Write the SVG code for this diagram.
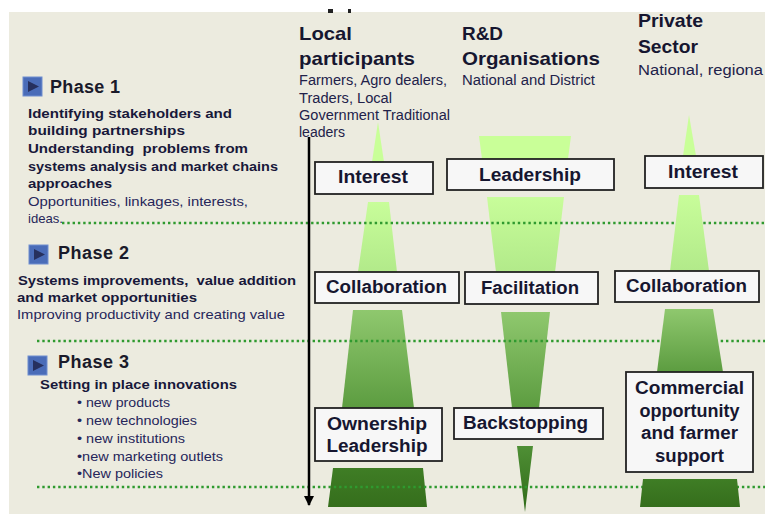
<svg xmlns="http://www.w3.org/2000/svg" width="765" height="514" viewBox="0 0 765 514">
<style>
.bg{fill:#ECEBDF}
.box{fill:#F7F7F7;stroke:#222;stroke-width:1.8}
.bl{font-family:"Liberation Sans",Arial,sans-serif;font-weight:bold;font-size:18px;fill:#161630;text-anchor:middle}
.hd{font-family:"Liberation Sans",Arial,sans-serif;font-weight:bold;font-size:19px;fill:#161630}
.sub{font-family:"Liberation Sans",Arial,sans-serif;font-size:14px;fill:#22224a}
.ph{font-family:"Liberation Sans",Arial,sans-serif;font-weight:bold;font-size:18px;fill:#1a1a2a}
.lb{font-family:"Liberation Sans",Arial,sans-serif;font-weight:bold;font-size:13px;fill:#18183a}
.ln{font-family:"Liberation Sans",Arial,sans-serif;font-size:13px;fill:#26265a}
.dot{stroke:#2F9A2F;stroke-width:2.6;stroke-dasharray:2.4 2.9;fill:none}
.icon{fill:#4A6CB8;stroke:#6E8ED0;stroke-width:1}
.tri{fill:#26305E}
.f1{fill:#C9FF98}
.f2{fill:url(#g2)}
.f3{fill:url(#g3)}
.f4{fill:url(#g4)}
.f4t{fill:url(#g4t)}
</style>
<defs>
<linearGradient id="g2" x1="0" y1="0" x2="0" y2="1"><stop offset="0" stop-color="#C8FD9A"/><stop offset="1" stop-color="#B2EA8A"/></linearGradient>
<linearGradient id="g3" x1="0" y1="0" x2="0" y2="1"><stop offset="0" stop-color="#8FC86E"/><stop offset="1" stop-color="#5C9C40"/></linearGradient>
<linearGradient id="g4" x1="0" y1="0" x2="0" y2="1"><stop offset="0" stop-color="#3F7D25"/><stop offset="1" stop-color="#356E1C"/></linearGradient>
<linearGradient id="g4t" x1="0" y1="0" x2="0" y2="1"><stop offset="0" stop-color="#4F8F35"/><stop offset="1" stop-color="#2F6A18"/></linearGradient>
<marker id="ah" viewBox="0 0 10 10" refX="9" refY="5" markerWidth="4" markerHeight="4" orient="auto"><path d="M0,0 L10,5 L0,10 z" fill="#000"/></marker>
</defs>

<rect class="bg" x="9" y="12" width="756" height="502"/>
<rect x="328" y="9" width="5" height="4" fill="#222"/>
<rect x="348" y="9" width="3" height="4" fill="#222"/>

<g id="funnels">
<polygon class="f1" points="378,122 384,162 372,162"/>
<polygon class="f2" points="368,202 389,202 397,272 358,272"/>
<polygon class="f3" points="353,310 402,310 414,408 342,408"/>
<polygon class="f4" points="333,468 423,468 427,507 328,507"/>
<polygon class="f1" points="479,136 571,136 568,159 482,159"/>
<polygon class="f2" points="487,197 564,197 555,272 496,272"/>
<polygon class="f3" points="501,312 550,312 539,408 512,408"/>
<polygon class="f4t" points="517,446 533,446 525,512"/>
</g>

<g id="phase-dividers">
<line class="dot" x1="62" y1="223" x2="765" y2="223"/>
<line class="dot" x1="37" y1="341" x2="765" y2="341"/>
<line class="dot" x1="37" y1="487" x2="765" y2="487"/>
</g>

<g id="funnels-private">
<polygon class="f1" points="689,115 696,156 683,156"/>
<polygon class="f2" points="679,195 699,195 709,271 670,271"/>
<polygon class="f3" points="665,309 713,309 723,372 657,372"/>
<polygon class="f4" points="643,479 737,479 740,507 640,507"/>
</g>

<g id="connectors">
<line x1="309" y1="137" x2="309" y2="505" stroke="#000" stroke-width="2.5" marker-end="url(#ah)"/>
</g>

<g id="phase1">
<rect class="icon" x="23" y="77" width="19" height="19"/>
<polygon class="tri" points="28,81 39,86.5 28,92"/>
<text class="ph" x="50" y="93" textLength="70">Phase 1</text>
<text class="lb" x="28" y="118" textLength="204" lengthAdjust="spacingAndGlyphs">Identifying stakeholders and</text>
<text class="lb" x="28" y="135" textLength="157" lengthAdjust="spacingAndGlyphs">building partnerships</text>
<text class="lb" x="28" y="153" textLength="220" lengthAdjust="spacingAndGlyphs" xml:space="preserve">Understanding  problems from</text>
<text class="lb" x="28" y="171" textLength="250" lengthAdjust="spacingAndGlyphs">systems analysis and market chains</text>
<text class="lb" x="28" y="188" textLength="84" lengthAdjust="spacingAndGlyphs">approaches</text>
<text class="ln" x="28" y="206" textLength="220" lengthAdjust="spacingAndGlyphs">Opportunities, linkages, interests,</text>
<text class="ln" x="28" y="223" textLength="35" lengthAdjust="spacingAndGlyphs">ideas.</text>
</g>

<g id="phase2">
<rect class="icon" x="29" y="245" width="19" height="19"/>
<polygon class="tri" points="34,249 45,254.5 34,260"/>
<text class="ph" x="58" y="259" textLength="71">Phase 2</text>
<text class="lb" x="18" y="285" textLength="278" lengthAdjust="spacingAndGlyphs" xml:space="preserve">Systems improvements,  value addition</text>
<text class="lb" x="17" y="302" textLength="180" lengthAdjust="spacingAndGlyphs">and market opportunities</text>
<text class="ln" x="17" y="319" textLength="268" lengthAdjust="spacingAndGlyphs">Improving productivity and creating value</text>
</g>

<g id="phase3">
<rect class="icon" x="28" y="356" width="19" height="19"/>
<polygon class="tri" points="33,360 44,365.5 33,371"/>
<text class="ph" x="58" y="368" textLength="71">Phase 3</text>
<text class="lb" x="40" y="389" textLength="197" lengthAdjust="spacingAndGlyphs">Setting in place innovations</text>
<text class="ln" x="77" y="407" textLength="93" lengthAdjust="spacingAndGlyphs">• new products</text>
<text class="ln" x="77" y="425" textLength="120" lengthAdjust="spacingAndGlyphs">• new technologies</text>
<text class="ln" x="77" y="443" textLength="108" lengthAdjust="spacingAndGlyphs">• new institutions</text>
<text class="ln" x="77" y="461" textLength="146" lengthAdjust="spacingAndGlyphs">•new marketing outlets</text>
<text class="ln" x="77" y="478" textLength="86" lengthAdjust="spacingAndGlyphs">•New policies</text>
</g>

<g id="col-local">
<text class="hd" x="299" y="40" textLength="53" lengthAdjust="spacingAndGlyphs">Local</text>
<text class="hd" x="299" y="65" textLength="116" lengthAdjust="spacingAndGlyphs">participants</text>
<text class="sub" x="299" y="85" textLength="148" lengthAdjust="spacingAndGlyphs">Farmers, Agro dealers,</text>
<text class="sub" x="299" y="103" textLength="93" lengthAdjust="spacingAndGlyphs">Traders, Local</text>
<text class="sub" x="299" y="120" textLength="151" lengthAdjust="spacingAndGlyphs">Government Traditional</text>
<text class="sub" x="299" y="137" textLength="46" lengthAdjust="spacingAndGlyphs">leaders</text>
</g>

<g id="col-rd">
<text class="hd" x="462" y="40" textLength="41" lengthAdjust="spacingAndGlyphs">R&amp;D</text>
<text class="hd" x="462" y="65" textLength="138" lengthAdjust="spacingAndGlyphs">Organisations</text>
<text class="sub" x="462" y="85" textLength="133" lengthAdjust="spacingAndGlyphs">National and District</text>
</g>

<g id="col-private">
<text class="hd" x="638" y="27" textLength="65" lengthAdjust="spacingAndGlyphs">Private</text>
<text class="hd" x="638" y="53" textLength="60" lengthAdjust="spacingAndGlyphs">Sector</text>
<text class="sub" x="638" y="75" font-size="15" textLength="125" lengthAdjust="spacingAndGlyphs">National, regiona</text>
</g>

<g id="local-interest">
<rect class="box" x="315" y="162" width="118" height="32"/>
<text class="bl" x="373" y="183" textLength="70" lengthAdjust="spacingAndGlyphs">Interest</text>
</g>
<g id="rd-leadership">
<rect class="box" x="447" y="159" width="167" height="31"/>
<text class="bl" x="530" y="181" textLength="102" lengthAdjust="spacingAndGlyphs">Leadership</text>
</g>
<g id="private-interest">
<rect class="box" x="645" y="156" width="118" height="32"/>
<text class="bl" x="703" y="178" textLength="70" lengthAdjust="spacingAndGlyphs">Interest</text>
</g>
<g id="local-collaboration">
<rect class="box" x="315" y="272" width="144" height="31"/>
<text class="bl" x="386.5" y="293" textLength="121" lengthAdjust="spacingAndGlyphs">Collaboration</text>
</g>
<g id="rd-facilitation">
<rect class="box" x="465" y="272" width="133" height="32"/>
<text class="bl" x="530" y="294" textLength="98" lengthAdjust="spacingAndGlyphs">Facilitation</text>
</g>
<g id="private-collaboration">
<rect class="box" x="615" y="271" width="144" height="31"/>
<text class="bl" x="686.5" y="292" textLength="121" lengthAdjust="spacingAndGlyphs">Collaboration</text>
</g>
<g id="local-ownership">
<rect class="box" x="315" y="408" width="127" height="53"/>
<text class="bl" x="377" y="430" textLength="100" lengthAdjust="spacingAndGlyphs">Ownership</text>
<text class="bl" x="377" y="452" textLength="101" lengthAdjust="spacingAndGlyphs">Leadership</text>
</g>
<g id="rd-backstopping">
<rect class="box" x="454" y="408" width="149" height="31"/>
<text class="bl" x="525.5" y="429" textLength="125" lengthAdjust="spacingAndGlyphs">Backstopping</text>
</g>
<g id="private-commercial">
<rect class="box" x="626" y="372" width="127" height="100"/>
<text class="bl" x="689.5" y="394" textLength="109" lengthAdjust="spacingAndGlyphs">Commercial</text>
<text class="bl" x="689.5" y="417" textLength="100" lengthAdjust="spacingAndGlyphs">opportunity</text>
<text class="bl" x="689.5" y="439" textLength="97" lengthAdjust="spacingAndGlyphs">and farmer</text>
<text class="bl" x="689.5" y="462" textLength="69" lengthAdjust="spacingAndGlyphs">support</text>
</g>
</svg>
